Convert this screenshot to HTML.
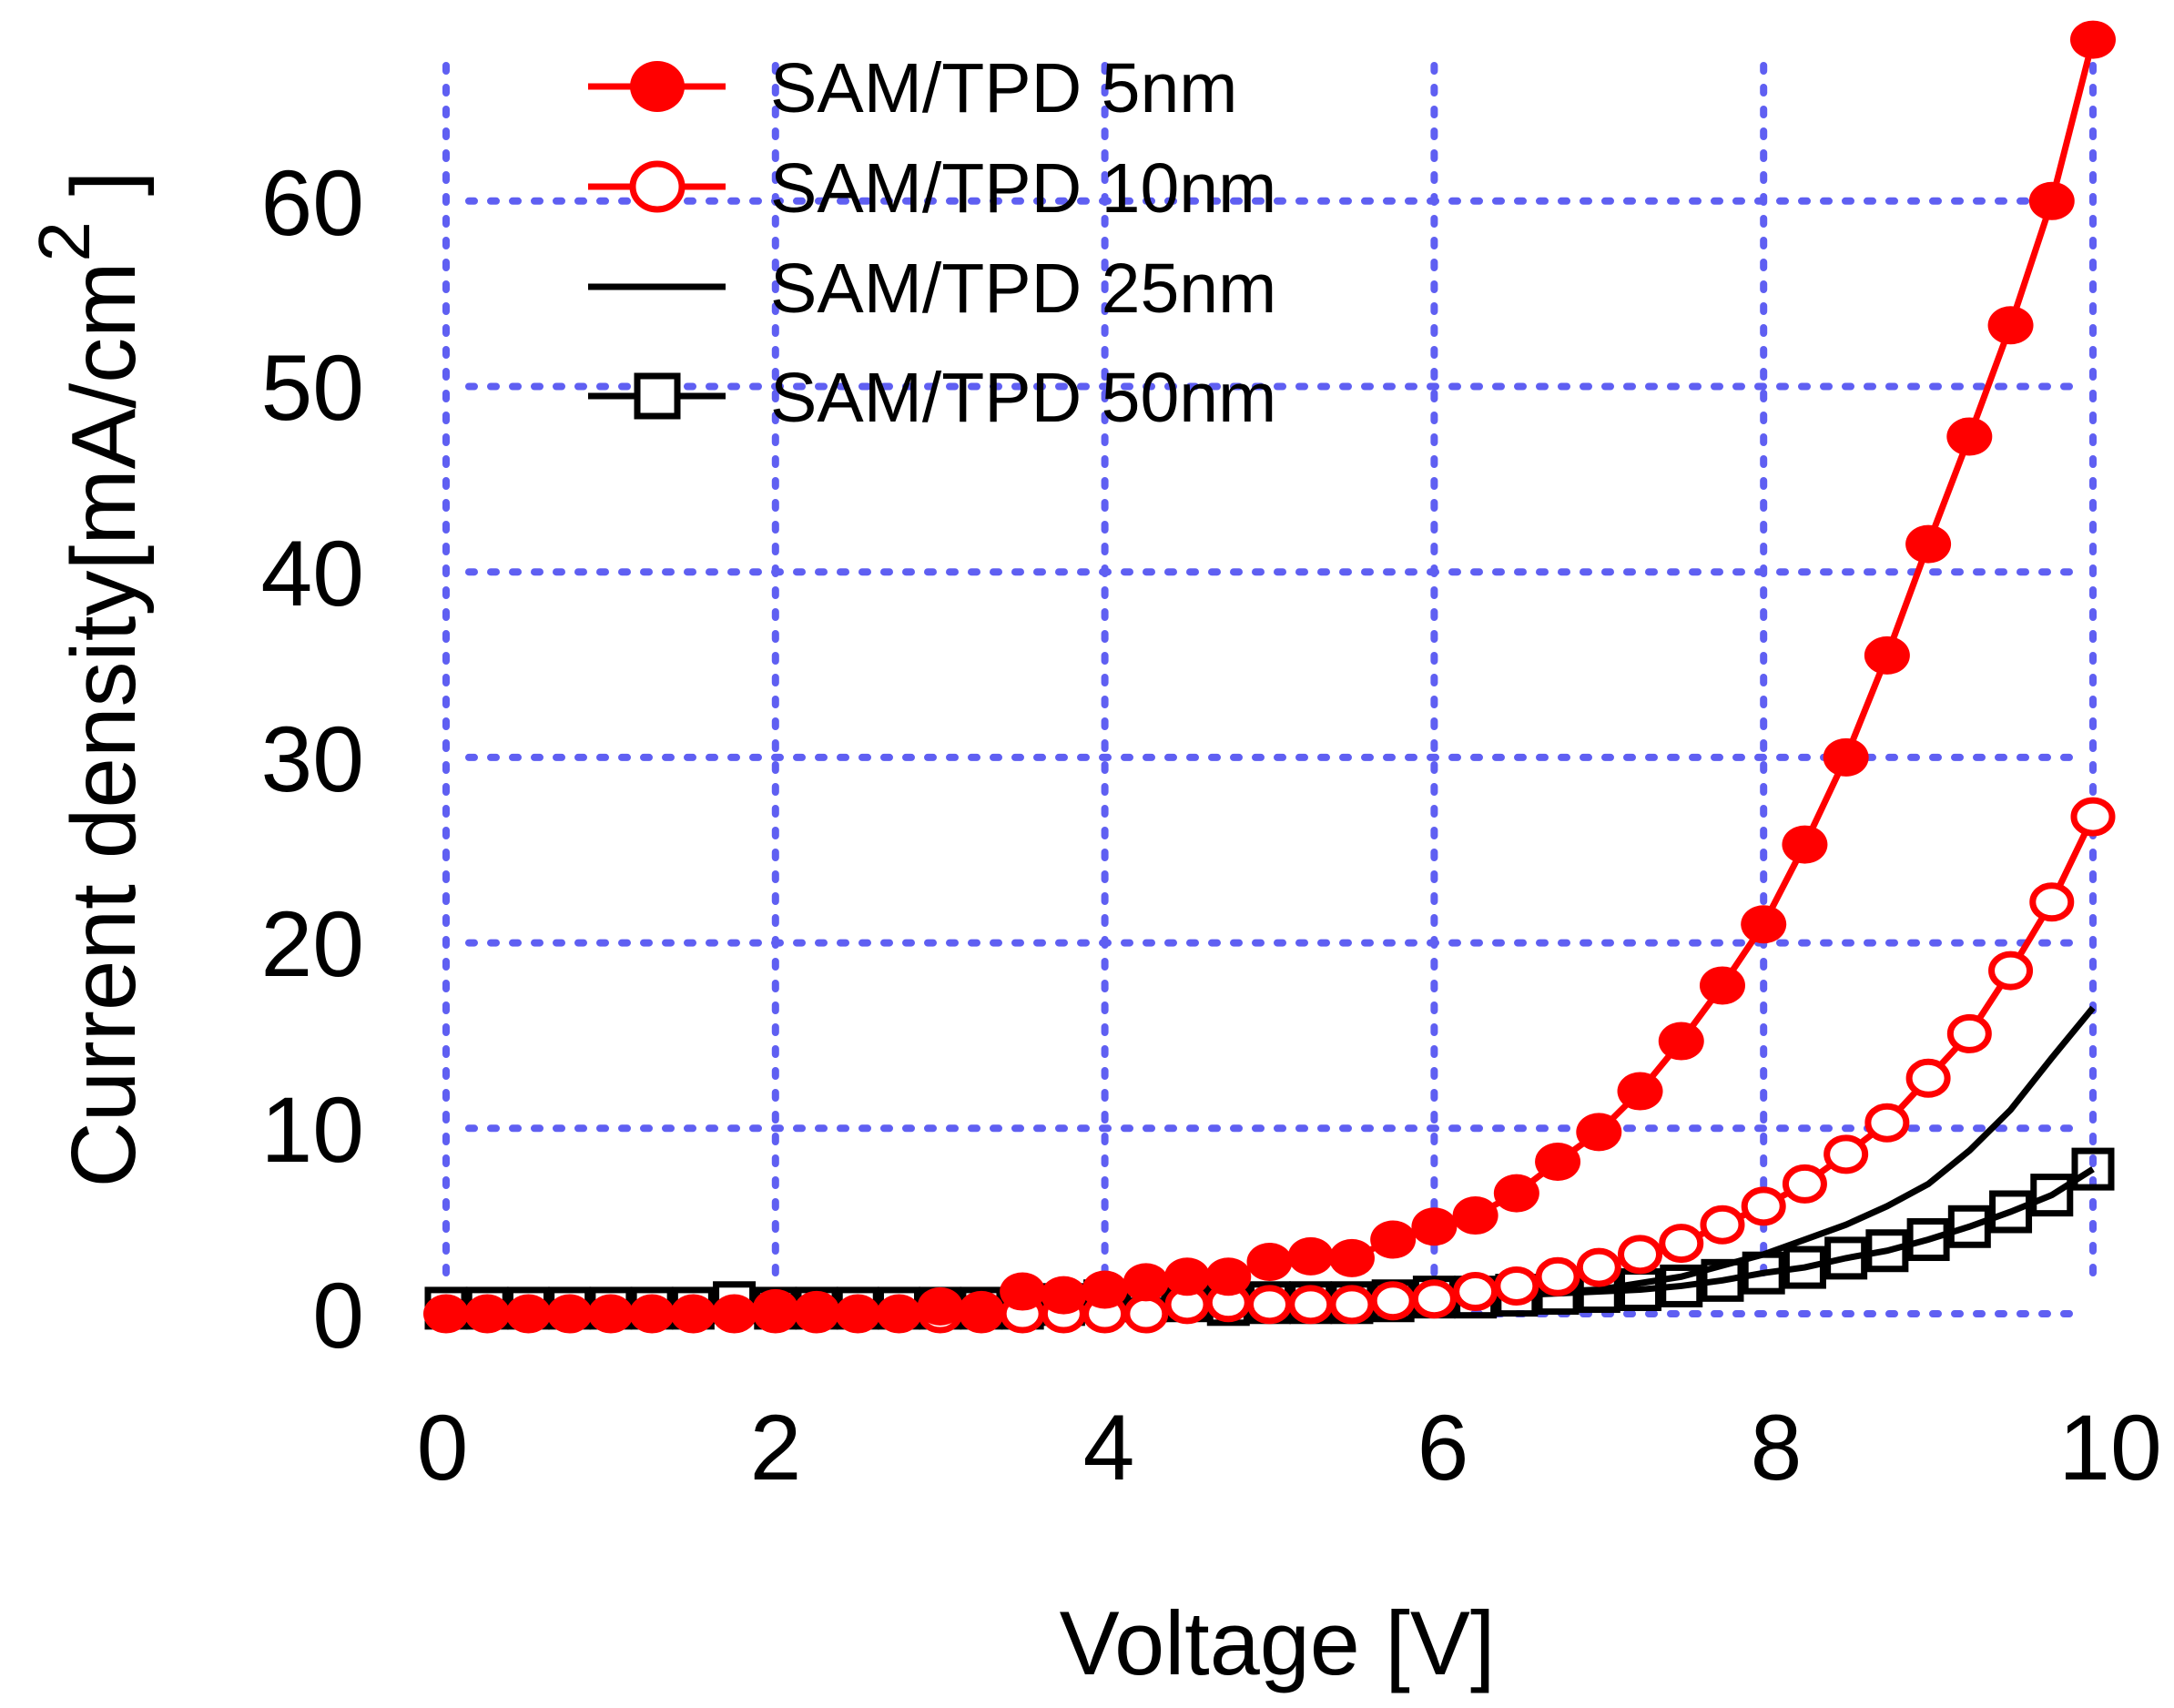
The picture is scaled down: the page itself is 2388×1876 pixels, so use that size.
<!DOCTYPE html>
<html><head><meta charset="utf-8"><style>
html,body{margin:0;padding:0;background:#fff}
svg{display:block}
text{font-family:"Liberation Sans",sans-serif;fill:#000}
</style></head><body>
<svg id="s" width="2388" height="1876" xmlns="http://www.w3.org/2000/svg">
<g id="grid" stroke="#5f5ff2" stroke-width="8" stroke-dasharray="6,18" stroke-linecap="round" fill="none"></g>
<g id="data"></g>
<g font-size="102" text-anchor="end">
<text x="400" y="1480">0</text><text x="400" y="1276">10</text><text x="400" y="1072">20</text>
<text x="400" y="869">30</text><text x="400" y="665">40</text><text x="400" y="461">50</text><text x="400" y="258">60</text>
</g>
<g font-size="102" text-anchor="middle">
<text x="486" y="1625">0</text><text x="852" y="1625">2</text><text x="1218" y="1625">4</text>
<text x="1585" y="1625">6</text><text x="1951" y="1625">8</text><text x="2318" y="1625">10</text>
</g>
<text x="1403" y="1839" font-size="99" text-anchor="middle">Voltage [V]</text>
<text transform="translate(148,746) rotate(-90)" font-size="100" text-anchor="middle">Current density[mA/cm<tspan dy="-50" font-size="80">2</tspan><tspan dy="50"> ]</tspan></text>
<g id="leg" font-size="77">
<text x="846" y="123">SAM/TPD 5nm</text>
<text x="846" y="233">SAM/TPD 10nm</text>
<text x="846" y="343">SAM/TPD 25nm</text>
<text x="846" y="463">SAM/TPD 50nm</text>
</g>
</svg>
<script>
const NS="http://www.w3.org/2000/svg";
const X=v=>490+180.9*v, Y=j=>1443-20.37*j;
function el(p,t,a){const e=document.createElementNS(NS,t);for(const k in a)e.setAttribute(k,a[k]);p.appendChild(e);return e;}
const g=document.getElementById('grid');
for(let i=0;i<=5;i++){el(g,'line',{x1:X(2*i),x2:X(2*i),y1:72,y2:1416});}
for(let i=0;i<=6;i++){el(g,'line',{x1:515,x2:2277,y1:Y(10*i),y2:Y(10*i)});}
const d=document.getElementById('data');
const v=[];for(let i=0;i<=40;i++)v.push(i*0.25);
const s5=[0,0,0,0,0,0,0,0,0.3,0.2,0,0,0.4,0.2,1.2,1.0,1.3,1.7,2,2.0,2.8,3.1,3.0,4,4.7,5.3,6.5,8.2,9.8,12,14.7,17.7,21,25.3,30,35.5,41.5,47.3,53.3,60,68.7];
const s10=[0,0,0,0,0,0,0,0,0,0,0,0,0,0,0,0,0,0,0.5,0.6,0.5,0.5,0.5,0.7,0.8,1.2,1.5,2,2.5,3.2,3.8,4.8,5.8,7,8.6,10.3,12.7,15.1,18.5,22.2,26.8];
const s25=[[0,0.4],[3,0.4],[4,0.5],[5,0.6],[6,0.8],[6.5,1.1],[7,1.3],[7.5,2],[8,3.2],[8.25,4],[8.5,4.8],[8.75,5.8],[9,7],[9.25,8.8],[9.5,11],[9.75,13.8],[10,16.5]];
const s50=[0.3,0.3,0.3,0.3,0.3,0.3,0.3,0.6,0.3,0.3,0.3,0.3,0.3,0.3,0.3,0.5,0.7,0.7,0.7,0.5,0.6,0.6,0.6,0.7,0.9,0.9,1.0,1.1,1.2,1.3,1.5,1.8,2.2,2.5,3,3.4,4,4.7,5.5,6.4,7.8];
function pl(pts,c){el(d,'polyline',{points:pts.map(p=>X(p[0])+','+Y(p[1])).join(' '),fill:'none',stroke:c,'stroke-width':7});}
pl(v.map((x,i)=>[x,s50[i]]),'#000');
pl(s25,'#000');
pl(v.map((x,i)=>[x,s10[i]]),'#f00');
pl(v.map((x,i)=>[x,s5[i]]),'#f00');
v.forEach((x,i)=>el(d,'rect',{x:X(x)-20,y:Y(s50[i])-20,width:40,height:40,fill:'none',stroke:'#000','stroke-width':7}));
v.forEach((x,i)=>el(d,'ellipse',{cx:X(x),cy:Y(s10[i]),rx:21,ry:18,fill:'#fff',stroke:'#f00','stroke-width':7}));
v.forEach((x,i)=>el(d,'ellipse',{cx:X(x),cy:Y(s5[i]),rx:25,ry:21,fill:'#f00'}));
const L=document.getElementById('leg');
const lx1=646,lx2=797,lm=722;
el(L,'line',{x1:lx1,x2:lx2,y1:95,y2:95,stroke:'#f00','stroke-width':7});
el(L,'ellipse',{cx:lm,cy:95,rx:30,ry:28,fill:'#f00'});
el(L,'line',{x1:lx1,x2:lx2,y1:205,y2:205,stroke:'#f00','stroke-width':7});
el(L,'ellipse',{cx:lm,cy:205,rx:27,ry:25,fill:'#fff',stroke:'#f00','stroke-width':7});
el(L,'line',{x1:lx1,x2:lx2,y1:315,y2:315,stroke:'#000','stroke-width':7});
el(L,'line',{x1:lx1,x2:lx2,y1:435,y2:435,stroke:'#000','stroke-width':7});
el(L,'rect',{x:lm-22,y:413,width:44,height:44,fill:'#fff',stroke:'#000','stroke-width':7});
</script>
</body></html>
